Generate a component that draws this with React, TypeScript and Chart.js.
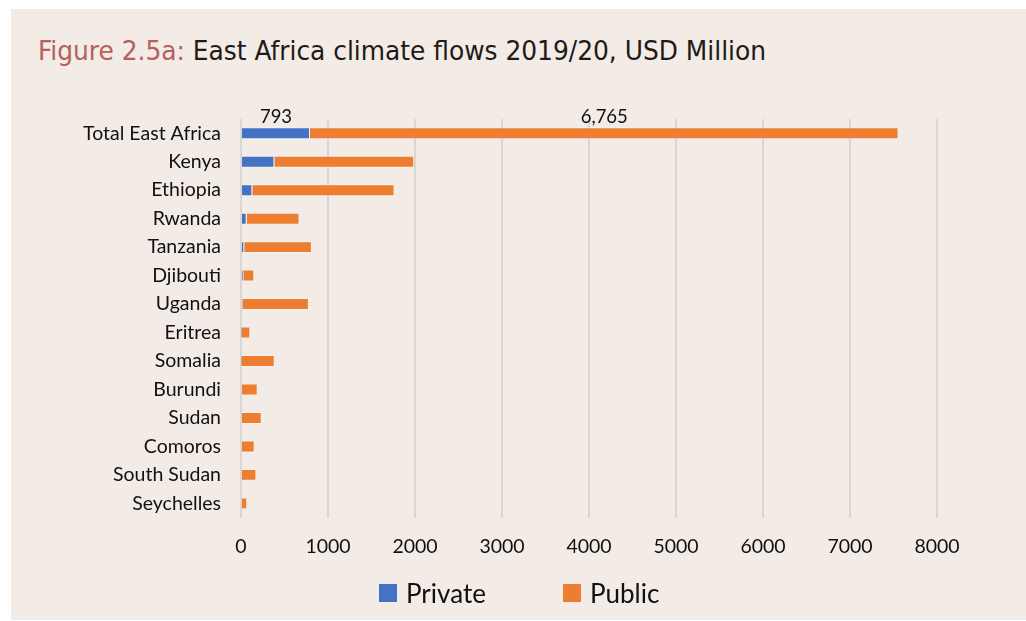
import React, { useEffect, useRef } from "react";
import { Chart, registerables } from "chart.js";

Chart.register(...registerables);

const categories = [
  "Total East Africa",
  "Kenya",
  "Ethiopia",
  "Rwanda",
  "Tanzania",
  "Djibouti",
  "Uganda",
  "Eritrea",
  "Somalia",
  "Burundi",
  "Sudan",
  "Comoros",
  "South Sudan",
  "Seychelles",
];
const privateValues = [793, 384, 130, 65, 38, 27, 15, 4, 4, 0, 0, 0, 0, 0];
const publicValues = [6765, 1607, 1635, 607, 777, 126, 765, 103, 384, 192, 238, 157, 177, 73];
const xTicks = [0, 1000, 2000, 3000, 4000, 5000, 6000, 7000, 8000];
const seriesNames = ["Private", "Public"];
const seriesColors = ["#4472c4", "#ed7d31"];

const BG = "#f2ebe6";
const FONT = "Lato, 'Open Sans', sans-serif";

const totalLabelPlugin = {
  id: "totalLabels",
  afterDatasetsDraw(chart: any) {
    const ctx = chart.ctx;
    ctx.save();
    ctx.fillStyle = "#111";
    ctx.font = `18.5px ${FONT}`;
    ctx.textAlign = "center";
    ctx.textBaseline = "bottom";
    chart.data.datasets.forEach((ds: any, di: number) => {
      const meta = chart.getDatasetMeta(di);
      const bar = meta.data[0];
      if (!bar) return;
      const p = bar.getProps(["x", "y", "base", "height"], true);
      const cx = (p.x + p.base) / 2;
      const v = ds.data[0] as number;
      ctx.fillText(v.toLocaleString("en-US"), cx, p.y - p.height / 2 - 1);
    });
    ctx.restore();
  },
};

export default function App() {
  const ref = useRef<HTMLCanvasElement | null>(null);
  const titleRef = useRef<HTMLDivElement | null>(null);

  useEffect(() => {
    if (titleRef.current) {
      const w = titleRef.current.getBoundingClientRect().width;
      if (w > 0) titleRef.current.style.transform = `scaleX(${728 / w})`;
    }
    if (!ref.current) return;
    const chart = new Chart(ref.current, {
      type: "bar",
      data: {
        labels: categories,
        datasets: [
          {
            label: seriesNames[0],
            data: privateValues,
            backgroundColor: seriesColors[0],
            borderColor: "rgba(255,255,255,0.35)",
            borderWidth: 1,
            barPercentage: 0.42,
            categoryPercentage: 1,
          },
          {
            label: seriesNames[1],
            data: publicValues,
            backgroundColor: seriesColors[1],
            borderColor: "rgba(255,255,255,0.35)",
            borderWidth: 1,
            barPercentage: 0.42,
            categoryPercentage: 1,
          },
        ],
      },
      options: {
        indexAxis: "y",
        animation: false,
        responsive: false,
        maintainAspectRatio: false,
        layout: { padding: { top: 119, left: 60, right: 89, bottom: 46 } },
        plugins: {
          legend: { display: false },
          tooltip: { enabled: false },
        },
        scales: {
          x: {
            stacked: true,
            min: 0,
            max: 8000,
            afterBuildTicks(scale: any) {
              scale.ticks = xTicks.map((v) => ({ value: v }));
            },
            grid: { color: "#d9d6d3", lineWidth: 2, drawTicks: false },
            border: { display: false },
            ticks: {
              color: "#111",
              padding: 17,
              font: { family: FONT, size: 19.5 },
              maxRotation: 0,
              autoSkip: false,
              callback: (v: any) => String(v),
            },
          },
          y: {
            stacked: true,
            grid: { display: false, drawTicks: false },
            border: { display: false },
            afterFit(scale: any) {
              scale.width = 181;
            },
            ticks: {
              color: "#111",
              padding: 20,
              font: { family: FONT, size: 19.5 },
              autoSkip: false,
            },
          },
        },
      },
      plugins: [totalLabelPlugin],
    });
    return () => chart.destroy();
  }, []);

  const legendPos = [379, 563];

  return (
    <div style={{ position: "fixed", left: 0, top: 0, width: 1026, height: 621, background: "#fff" }}>
      <div
        style={{
          position: "absolute",
          left: 11,
          top: 9,
          width: 1015,
          height: 611,
          background: BG,
        }}
      />
      <div
        ref={titleRef}
        style={{
          position: "absolute",
          left: 38,
          top: 35,
          fontFamily: "'Liberation Sans Narrow', 'DejaVu Sans Condensed', sans-serif",
          fontSize: 27,
          lineHeight: "32px",
          whiteSpace: "nowrap",
          color: "#1f1a17",
          transformOrigin: "left center",
        }}
      >
        <span style={{ color: "#b5605a" }}>Figure 2.5a: </span>
        East Africa climate flows 2019/20, USD Million
      </div>
      <canvas
        ref={ref}
        width={1026}
        height={621}
        style={{ position: "absolute", left: 0, top: 0, width: 1026, height: 621 }}
      />
      {seriesNames.map((name, i) => (
        <div
          key={name}
          style={{
            position: "absolute",
            left: legendPos[i],
            top: 578,
            height: 30,
            display: "flex",
            alignItems: "center",
            fontFamily: FONT,
            fontSize: 26,
            color: "#111",
            whiteSpace: "nowrap",
          }}
        >
          <span
            style={{
              display: "inline-block",
              width: 18,
              height: 18,
              background: seriesColors[i],
              marginRight: 9,
            }}
          />
          {name}
        </div>
      ))}
    </div>
  );
}
